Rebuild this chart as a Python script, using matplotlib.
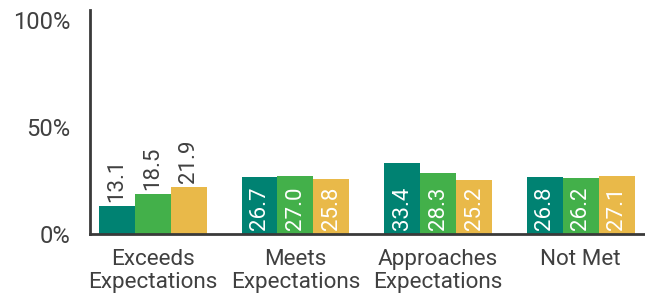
import numpy as np
import matplotlib
matplotlib.use("Agg")
import matplotlib.pyplot as plt

# data
categories = ["Exceeds\nExpectations", "Meets\nExpectations",
              "Approaches\nExpectations", "Not Met"]
series_a = [13.1, 26.7, 33.4, 26.8]
series_b = [18.5, 27.0, 28.3, 26.2]
series_c = [21.9, 25.8, 25.2, 27.1]
y_ticks = [0, 50, 100]

colors = ["#008272", "#43b04a", "#e9b949"]
text_gray = "#404040"

plt.rcParams['font.family'] = ['Roboto', 'DejaVu Sans']

fig = plt.figure(figsize=(6.45, 2.93), dpi=100)
ax = fig.add_axes([90 / 645, 1 - 234 / 293, 1 - 90 / 645, 224 / 293])

x = np.arange(len(categories))
width = 0.252
for i, vals in enumerate([series_a, series_b, series_c]):
    bars = ax.bar(x + (i - 1) * width, vals, width, color=colors[i])
    for rect, v in zip(bars, vals):
        cx = rect.get_x() + rect.get_width() / 2
        if v >= 25:
            # label sits inside the bar, near the bottom
            ax.text(cx, 2.0, f"{v:.1f}", rotation=90, ha='center', va='bottom',
                    color='white', fontsize=16)
        else:
            ax.text(cx, v + 2.0, f"{v:.1f}", rotation=90, ha='center', va='bottom',
                    color=text_gray, fontsize=16)

ax.set_xlim(-0.44, 3.45)
ax.set_ylim(0, 104.7)

ax.set_yticks(y_ticks)
ax.set_yticklabels([f"{t}%" for t in y_ticks], fontsize=17, color=text_gray)
ax.set_xticks(x)
ax.set_xticklabels(categories, fontsize=16.2, color=text_gray, linespacing=1.1)
ax.tick_params(axis='y', length=0, pad=14)
ax.tick_params(axis='x', length=0, pad=11)

for side in ['top', 'right']:
    ax.spines[side].set_visible(False)
for side in ['left', 'bottom']:
    ax.spines[side].set_color('#3a3a3a')
    ax.spines[side].set_linewidth(2)

fig.savefig("out.png", dpi=100)
